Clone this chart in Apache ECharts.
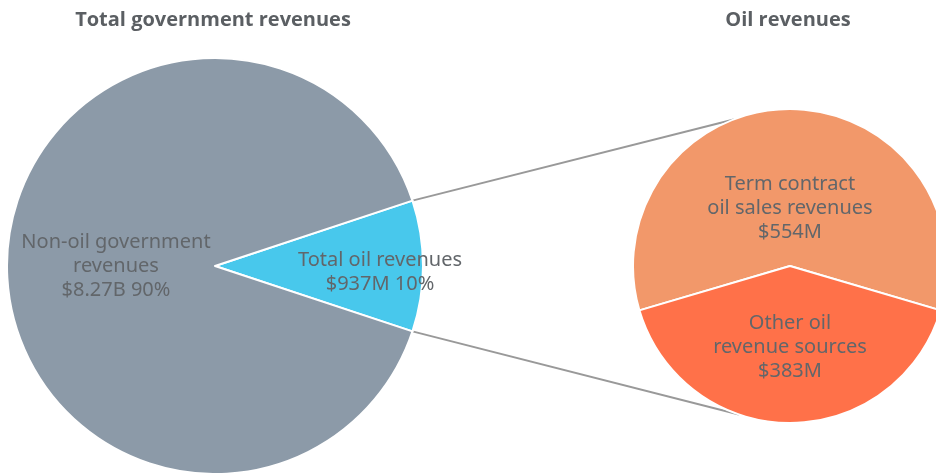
<!DOCTYPE html>
<html lang="en">
<head>
  <meta charset="UTF-8">
  <title>Oil revenues</title>
  <style>
    html, body { margin: 0; padding: 0; background: #fff; }
    #main { width: 936px; height: 473px; }
  </style>
</head>
<body>
  <div id="main"></div>
<script src="https://cdn.jsdelivr.net/npm/echarts@6/dist/echarts.min.js"></script>
<script>
  // data, in millions of dollars
  var totalNames = ['Total oil revenues', 'Non-oil government\nrevenues'];
  var totalValues = [937, 8270];
  var oilNames = ['Term contract\noil sales revenues', 'Other oil\nrevenue sources'];
  var oilValues = [554, 383];

  var totalColors = ['#48c8ec', '#8c9aa8'];
  var oilColors = ['#f2986a', '#ff7149'];

  // layout
  var leftCenter = [215, 266], leftR = 208;
  var rightCenter = [790, 266], rightR = 157;

  var myChart = echarts.init(document.getElementById('main'));

  function money(v) {
    return v >= 1000 ? '$' + (v / 1000).toFixed(2) + 'B' : '$' + v + 'M';
  }

  var totalSum = totalValues[0] + totalValues[1];
  var oilSum = oilValues[0] + oilValues[1];
  // oil slice centred on the right-hand side of the left pie
  var half = totalValues[0] / totalSum * 180;
  // "other" slice centred at the bottom of the right pie
  var rightStart = 90 + (oilValues[0] / oilSum * 180);

  function onCircle(c, r, deg) {
    var a = deg * Math.PI / 180;
    return [c[0] + r * Math.cos(a), c[1] - r * Math.sin(a)];
  }
  var p1 = onCircle(leftCenter, leftR, half);
  var p2 = onCircle(leftCenter, leftR, -half);
  var q1 = onCircle(rightCenter, rightR, 111);
  var q2 = onCircle(rightCenter, rightR, -109);

  var labelBase = {
    show: true,
    position: 'inside',
    color: '#62666a',
    fontFamily: 'Noto Sans',
    fontSize: 20,
    lineHeight: 24,
    rich: { sp: { lineHeight: 12, height: 12, fontSize: 1 } }
  };
  var titleStyle = { fontFamily: 'Open Sans', fontWeight: 'bold', fontSize: 20, color: '#5b5f63' };

  var option = {
    animation: false,
    title: [
      { text: 'Total government revenues', left: leftCenter[0] - 7, top: 5, textAlign: 'center', textStyle: titleStyle },
      { text: 'Oil revenues', left: rightCenter[0] - 7, top: 5, textAlign: 'center', textStyle: titleStyle }
    ],
    graphic: [
      { type: 'line', z: 0, shape: { x1: p1[0], y1: p1[1], x2: q1[0], y2: q1[1] }, style: { stroke: '#999', lineWidth: 2 } },
      { type: 'line', z: 0, shape: { x1: p2[0], y1: p2[1], x2: q2[0], y2: q2[1] }, style: { stroke: '#999', lineWidth: 2 } }
    ],
    series: [
      {
        type: 'pie',
        z: 3,
        center: leftCenter,
        radius: [0, leftR],
        startAngle: half,
        clockwise: true,
        silent: true,
        avoidLabelOverlap: false,
        labelLayout: { hideOverlap: false },
        itemStyle: { borderColor: '#fff', borderWidth: 2 },
        labelLine: { show: false },
        label: Object.assign({}, labelBase, {
          formatter: function (p) {
            // small spacer pushes the oil label a few pixels down
            return (p.dataIndex === 0 ? '{sp|}\n' : '') +
              p.name + '\n' + money(p.value) + ' ' + Math.round(p.percent) + '%';
          }
        }),
        data: totalNames.map(function (n, i) {
          var d = { name: n, value: totalValues[i], itemStyle: { color: totalColors[i] } };
          d.label = { padding: i === 0 ? [0, 0, 0, 116] : [0, 0, 0, 16] };
          return d;
        })
      },
      {
        type: 'pie',
        z: 3,
        center: rightCenter,
        radius: [0, rightR],
        startAngle: rightStart,
        clockwise: true,
        silent: true,
        avoidLabelOverlap: false,
        labelLayout: { hideOverlap: false },
        itemStyle: { borderColor: '#fff', borderWidth: 2 },
        labelLine: { show: false },
        label: Object.assign({}, labelBase, {
          formatter: function (p) {
            // the top label sits a little lower than the slice midpoint
            return (p.dataIndex === 0 ? '\n\n' : '') + p.name + '\n' + money(p.value);
          }
        }),
        data: oilNames.map(function (n, i) {
          return { name: n, value: oilValues[i], itemStyle: { color: oilColors[i] } };
        })
      }
    ]
  };

  myChart.setOption(option);
</script>
</body>
</html>
